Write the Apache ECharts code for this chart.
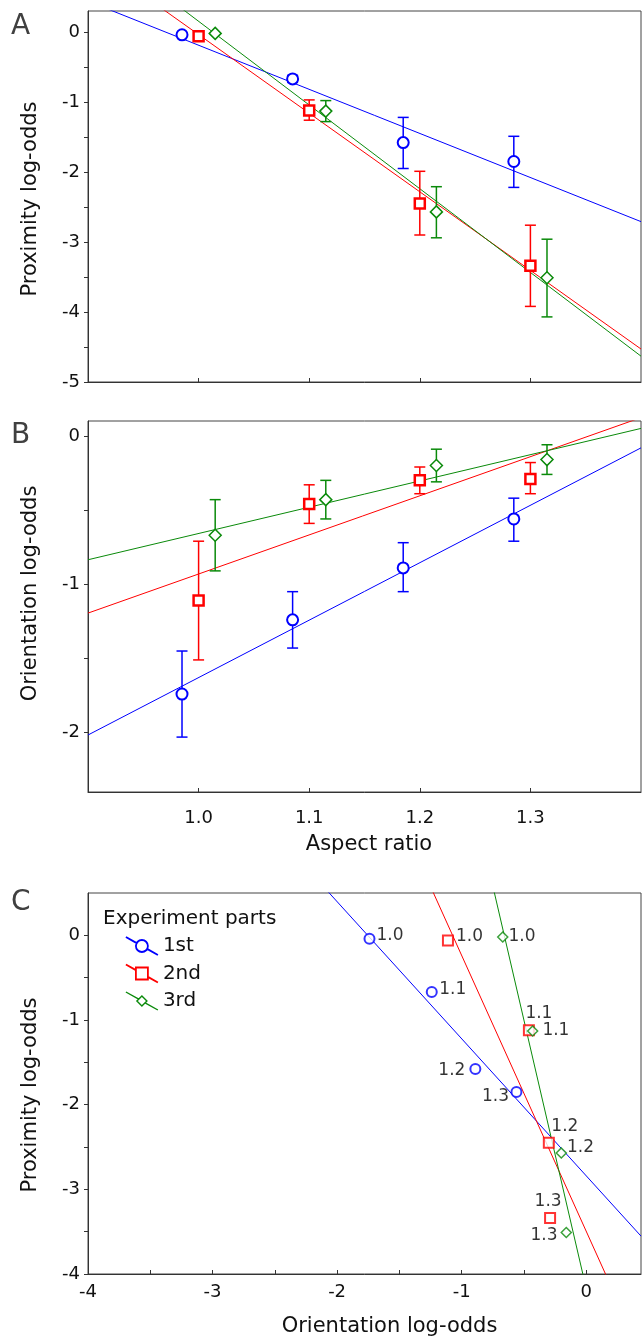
<!DOCTYPE html>
<html>
<head>
<meta charset="utf-8">
<script src="https://cdn.jsdelivr.net/npm/echarts@6/dist/echarts.min.js"></script>
<style>
  html, body { margin: 0; padding: 0; background: #fff; }
  #chart { width: 642px; height: 1338px; }
</style>
</head>
<body>
<div id="chart"></div>
<script>
// aspect ratios shown (x of panels A and B, point labels in C)
const aspectRatios = [1.0, 1.1, 1.2, 1.3];
const partNames = ['1st', '2nd', '3rd'];

// proximity log-odds (panel A) with error bar ends
const proximity1st = [-0.04, -0.67, -1.58, -1.85];
const proximity2nd = [-0.06, -1.12, -2.45, -3.34];
const proximity3rd = [-0.02, -1.13, -2.57, -3.51];
const proxLow1st = [null, -0.72, -1.95, -2.22];
const proxHigh1st = [null, -0.62, -1.22, -1.49];
const proxLow2nd = [null, -1.26, -2.90, -3.92];
const proxHigh2nd = [null, -0.97, -1.99, -2.76];
const proxLow3rd = [-0.02, -1.28, -2.94, -4.07];
const proxHigh3rd = [-0.02, -0.98, -2.21, -2.96];

// orientation log-odds (panel B) with error bar ends
const orientation1st = [-1.74, -1.24, -0.89, -0.56];
const orientation2nd = [-1.11, -0.46, -0.30, -0.29];
const orientation3rd = [-0.67, -0.43, -0.20, -0.16];
const orientLow1st = [-2.03, -1.43, -1.05, -0.71];
const orientHigh1st = [-1.45, -1.05, -0.72, -0.42];
const orientLow2nd = [-1.51, -0.59, -0.39, -0.39];
const orientHigh2nd = [-0.71, -0.33, -0.21, -0.18];
const orientLow3rd = [-0.91, -0.56, -0.31, -0.26];
const orientHigh3rd = [-0.43, -0.30, -0.09, -0.06];

// fitted lines [intercept, slope]
const fitA1st = [6.111, -6.30];
const fitA2nd = [11.193, -11.23];
const fitA3rd = [12.113, -11.96];
const fitB1st = [-5.499, 3.87];
const fitB2nd = [-3.566, 2.635];
const fitB3rd = [-2.428, 1.77];
const fitC1st = [-2.84, -1.619];
const fitC2nd = [-3.495, -3.258];
const fitC3rd = [-4.171, -6.34];

// tick values
const ticksA = [-5, -4.5, -4, -3.5, -3, -2.5, -2, -1.5, -1, -0.5, 0];
const labelsA = [-5, -4, -3, -2, -1, 0];
const ticksB = [-2, -1.5, -1, -0.5, 0];
const labelsB = [-2, -1, 0];
const ticksC = [-4, -3.5, -3, -2.5, -2, -1.5, -1, -0.5, 0];
const labelsC = [-4, -3, -2, -1, 0];

const proximity = [proximity1st, proximity2nd, proximity3rd];
const proxLow = [proxLow1st, proxLow2nd, proxLow3rd];
const proxHigh = [proxHigh1st, proxHigh2nd, proxHigh3rd];
const orientation = [orientation1st, orientation2nd, orientation3rd];
const orientLow = [orientLow1st, orientLow2nd, orientLow3rd];
const orientHigh = [orientHigh1st, orientHigh2nd, orientHigh3rd];
const fitsA = [fitA1st, fitA2nd, fitA3rd];
const fitsB = [fitB1st, fitB2nd, fitB3rd];
const fitsC = [fitC1st, fitC2nd, fitC3rd];

const colors = ['#0000ff', '#ff0000', '#0a8a0a'];
const symbols = ['circle', 'rect', 'diamond'];
const sizesAB = [11, 10, 12];
const sizesC = [10, 10, 10];
const borders = [2, 2.5, 1.5];
const dodge = [-0.015, 0, 0.015];
const FONT = 'DejaVu Sans';

// label placement of the panel C points
const labelLayoutC = [
    [{position: 'right', distance: 1, offset: [0, -3]}, {position: 'right', distance: 1.5, offset: [0, -2]},
     {position: 'left', distance: 4, offset: [0, 1]}, {position: 'left', distance: 1.5, offset: [0, 5]}],
    [{position: 'right', distance: 2, offset: [0, -4]}, {position: 'top', distance: 2, offset: [10, 0]},
     {position: 'top', distance: 2, offset: [16, 0]}, {position: 'top', distance: 2, offset: [-2, 0]}],
    [{position: 'right', distance: 0, offset: [0, 0]}, {position: 'right', distance: 4, offset: [0, 0]},
     {position: 'right', distance: 0, offset: [0, -5]}, {position: 'left', distance: 3, offset: [0, 3]}]
];

function fitLine(fit, x0, x1) {
    return [[x0, fit[0] + fit[1] * x0], [x1, fit[0] + fit[1] * x1]];
}

function errorBars(name, idx, xs, lows, highs, color) {
    const data = [];
    for (let i = 0; i < xs.length; i++) {
        if (lows[i] != null) data.push([xs[i], lows[i], highs[i]]);
    }
    return {
        type: 'custom', name: name, xAxisIndex: idx, yAxisIndex: idx, z: 2, silent: true,
        data: data,
        encode: {x: 0, y: [1, 2]},
        renderItem: function (params, api) {
            const x = api.value(0);
            const lo = api.coord([x, api.value(1)]);
            const hi = api.coord([x, api.value(2)]);
            const hw = 5.5;
            const style = {stroke: color, lineWidth: 1.5};
            return {
                type: 'group', children: [
                    {type: 'line', shape: {x1: lo[0], y1: lo[1], x2: hi[0], y2: hi[1]}, style: style},
                    {type: 'line', shape: {x1: lo[0] - hw, y1: lo[1], x2: lo[0] + hw, y2: lo[1]}, style: style},
                    {type: 'line', shape: {x1: hi[0] - hw, y1: hi[1], x2: hi[0] + hw, y2: hi[1]}, style: style}
                ]
            };
        }
    };
}

const series = [];
for (let p = 0; p < 3; p++) {
    const name = partNames[p];
    const col = colors[p];
    const xs = aspectRatios.map(a => a + dodge[p]);
    const lineBase = {type: 'line', name: name, showSymbol: false, silent: true, z: 1,
        lineStyle: {color: col, width: 1}, itemStyle: {color: col}};
    const markBase = {type: 'scatter', name: name, symbol: symbols[p], z: 3, silent: true,
        itemStyle: {color: '#fff', borderColor: col, borderWidth: borders[p], opacity: 1}};

    // panel A
    series.push(Object.assign({}, lineBase, {xAxisIndex: 0, yAxisIndex: 0, data: fitLine(fitsA[p], 0.9, 1.4)}));
    series.push(errorBars(name, 0, xs, proxLow[p], proxHigh[p], col));
    series.push(Object.assign({}, markBase, {xAxisIndex: 0, yAxisIndex: 0, symbolSize: sizesAB[p],
        data: xs.map((x, i) => [x, proximity[p][i]])}));

    // panel B
    series.push(Object.assign({}, lineBase, {xAxisIndex: 1, yAxisIndex: 1, data: fitLine(fitsB[p], 0.9, 1.4)}));
    series.push(errorBars(name, 1, xs, orientLow[p], orientHigh[p], col));
    series.push(Object.assign({}, markBase, {xAxisIndex: 1, yAxisIndex: 1, symbolSize: sizesAB[p],
        data: xs.map((x, i) => [x, orientation[p][i]])}));

    // panel C
    series.push(Object.assign({}, lineBase, {xAxisIndex: 2, yAxisIndex: 2, data: fitLine(fitsC[p], -4, 0.44)}));
    series.push(Object.assign({}, markBase, {xAxisIndex: 2, yAxisIndex: 2, symbolSize: sizesC[p],
        itemStyle: {color: '#fff', borderColor: col, borderWidth: p === 2 ? 1.5 : 2},
        data: orientation[p].map((o, i) => ({
            value: [o, proximity[p][i]],
            label: Object.assign({
                show: true, formatter: aspectRatios[i].toFixed(1),
                fontFamily: FONT, fontSize: 17, color: '#000'
            }, labelLayoutC[p][i])
        }))
    }));
}

const tickStyle = {lineStyle: {color: '#333', width: 1}};
function xAxisDef(idx, min, max, ticks, labels, showLabels, margin, name, namePad) {
    return {
        type: 'value', gridIndex: idx, min: min, max: max,
        name: name, nameLocation: 'middle', nameGap: 42,
        nameTextStyle: {fontFamily: FONT, fontSize: 21, color: '#111', padding: namePad},
        axisLine: {onZero: false, lineStyle: {color: '#333', width: 1}},
        axisTick: Object.assign({inside: true, length: 4, customValues: ticks}, tickStyle),
        axisLabel: {show: showLabels, customValues: labels, margin: margin,
            fontFamily: FONT, fontSize: 18, color: '#111',
            formatter: v => (idx === 2 ? String(v) : v.toFixed(1))},
        splitLine: {show: false}
    };
}
function yAxisDef(idx, min, max, ticks, labels, name, namePad) {
    return {
        type: 'value', gridIndex: idx, min: min, max: max,
        name: name, nameLocation: 'middle', nameGap: 47,
        nameTextStyle: {fontFamily: FONT, fontSize: 21, color: '#111', padding: namePad},
        axisLine: {onZero: false, lineStyle: {color: '#333', width: 1}},
        axisTick: Object.assign({inside: false, length: 4, customValues: ticks}, tickStyle),
        axisLabel: {customValues: labels, margin: 8, fontFamily: FONT, fontSize: 18, color: '#111',
            formatter: v => String(v)},
        splitLine: {show: false}
    };
}

const gridBase = {left: 88, right: 1, show: true, borderColor: '#444', borderWidth: 1};
const titleStyle = {fontFamily: FONT, fontSize: 28, fontWeight: 'normal', color: '#404040'};

const option = {
    animation: false,
    backgroundColor: '#fff',
    title: [
        {text: 'A', left: 11, top: 13, padding: 0, textStyle: titleStyle},
        {text: 'B', left: 11, top: 422, padding: 0, textStyle: titleStyle},
        {text: 'C', left: 11, top: 889, padding: 0, textStyle: titleStyle},
        {text: 'Experiment parts', left: 103, top: 909, padding: 0,
            textStyle: {fontFamily: FONT, fontSize: 20, fontWeight: 'normal', color: '#111'}}
    ],
    legend: {
        orient: 'vertical', left: 120, top: 931, itemWidth: 32, itemHeight: 18, itemGap: 7.5,
        selectedMode: false,
        textStyle: {fontFamily: FONT, fontSize: 20, color: '#111', lineHeight: 18},
        data: [
            {name: '1st', icon: 'path://M0,0L10.8,6.1M21.2,11.9L32,18M22,9A6,6,0,1,1,10,9A6,6,0,1,1,22,9Z',
                itemStyle: {color: '#fff', borderColor: colors[0], borderWidth: 1.8}},
            {name: '2nd', icon: 'path://M0,0L10,5.6M22,12.4L32,18M10,3L22,3L22,15L10,15Z',
                itemStyle: {color: '#fff', borderColor: colors[1], borderWidth: 1.8}},
            {name: '3rd', icon: 'path://M0,0L12.8,7.2M19.2,10.8L32,18M16,4L21,9L16,14L11,9Z',
                itemStyle: {color: '#fff', borderColor: colors[2], borderWidth: 1.4}}
        ]
    },
    grid: [
        Object.assign({top: 11, height: 371}, gridBase),
        Object.assign({top: 421, height: 371}, gridBase),
        Object.assign({top: 893, height: 382}, gridBase)
    ],
    xAxis: [
        xAxisDef(0, 0.9, 1.4, aspectRatios, aspectRatios, false, 17, '', 0),
        xAxisDef(1, 0.9, 1.4, aspectRatios, aspectRatios, true, 17, 'Aspect ratio', [0, 0, 0, 9]),
        xAxisDef(2, -4, 0.44, ticksC, labelsC, true, 9, 'Orientation log-odds', [0, 0, 0, 50])
    ],
    yAxis: [
        yAxisDef(0, -5, 0.3, ticksA, labelsA, 'Proximity log-odds', [0, 5, 0, 0]),
        yAxisDef(1, -2.4, 0.1, ticksB, labelsB, 'Orientation log-odds', [0, 0, 0, 26]),
        yAxisDef(2, -4, 0.5, ticksC, labelsC, 'Proximity log-odds', [0, 23, 0, 0])
    ],
    series: series
};

const myChart = echarts.init(document.getElementById('chart'));
myChart.setOption(option);
</script>
</body>
</html>
